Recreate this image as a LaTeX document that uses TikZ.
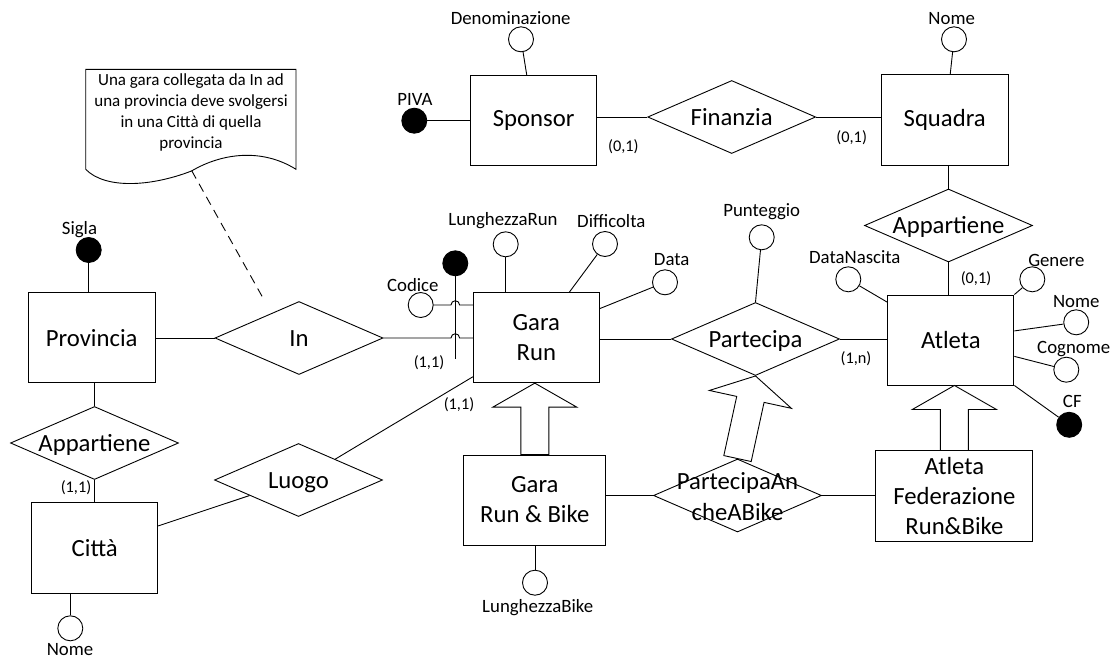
\documentclass[tikz,border=0pt]{standalone}
\usepackage{fontspec}
\setmainfont{Carlito}
\usetikzlibrary{shapes.geometric,calc}
\newcommand{\isaarrow}[2]{%
  \path coordinate (isah) at ($(#2)!24pt!(#1)$);
  \draw[isa] ($(#1)!14pt!90:(#2)$) -- ($(isah)!14pt!90:(#2)$) -- ($(isah)!42pt!90:(#2)$) -- (#2)
    -- ($(isah)!42pt!-90:(#2)$) -- ($(isah)!14pt!-90:(#2)$) -- ($(#1)!14pt!-90:(#2)$) -- cycle;}
\begin{document}
\begin{tikzpicture}[x=1pt,y=-1pt,line width=0.9pt,
 ent/.style={draw,rectangle,inner sep=0pt,align=center,font=\fontsize{24.7}{30}\selectfont},
 rel/.style={draw,diamond,inner sep=0pt,minimum width=168pt,minimum height=73pt,text height=16.5pt,text depth=0.5pt,font=\fontsize{24.7}{30}\selectfont},
 att/.style={draw,circle,inner sep=0pt,minimum size=25pt,fill=white},
 keyatt/.style={att,fill=black},
 lbl/.style={inner sep=0pt,font=\fontsize{18.8}{22}\selectfont},
 card/.style={inner sep=0pt,font=\fontsize{16.3}{20}\selectfont},
 isa/.style={draw,fill=white,line join=miter},
 notebox/.style={draw,line join=miter},
]
\useasboundingbox (0,0) rectangle (1114,659);

% note
\draw[notebox] (85.7,69.3) -- (296,69.3) -- (296,169.3)
  .. controls (262,148) and (222,153) .. (191.5,171)
  .. controls (150,187) and (105,189) .. (85.7,169.3) -- cycle;
\coordinate (notept) at (191.7,170.7);
\node[align=center,inner sep=0pt,font=\fontsize{17}{20.8}\selectfont] (notetxt) at (191,112.5)
  {Una gara collegata da In ad\\una provincia deve svolgersi\\in una Città di quella\\provincia};
\coordinate (noteend) at (263,298);
\draw[dashed,dash pattern=on 9pt off 6pt] (notept) -- (noteend);

% entities
\node[ent,minimum width=126pt,minimum height=90pt] (sp) at (533.7,120.3) {Sponsor};
\node[ent,minimum width=127pt,minimum height=91pt] (sq) at (944.7,120.3) {Squadra};
\node[ent,minimum width=127pt,minimum height=90pt] (prov) at (91.7,337.7) {Provincia};
\node[ent,minimum width=126pt,minimum height=91pt] (citta) at (94.7,548) {Città};
\node[ent,minimum width=126pt,minimum height=90pt] (gr) at (536.3,337.7) {Gara\\Run};
\node[ent,minimum width=126pt,minimum height=90pt] (atl) at (950.9,340) {Atleta};
\node[ent,minimum width=142pt,minimum height=90pt] (grb) at (534.8,500) {Gara\\Run \& Bike};
\node[ent,minimum width=157pt,minimum height=91pt] (afr) at (954.4,496.4) {Atleta\\Federazione\\Run\&Bike};

% relationships
\node[rel] (fin) at (731.7,117) {\makebox[0pt]{Finanzia}};
\node[rel] (inrel) at (299,338) {\makebox[0pt]{In}};
\node[rel] (appL) at (94.5,443) {\makebox[0pt]{Appartiene}};
\node[rel] (luogo) at (298.5,480) {\makebox[0pt]{Luogo}};
\node[rel] (part) at (755.5,339) {\makebox[0pt]{Partecipa}};
\node[rel] (appR) at (948.5,225.5) {\makebox[0pt]{Appartiene}};
\node[rel] (pab) at (737.5,495.5) {};
\node[align=center,inner sep=0pt,font=\fontsize{24.7}{31}\selectfont] (pabtxt) at (737.5,497) {PartecipaAn\\cheABike};

% attributes
\node[att] (den) at (521,39.3) {};
\node[lbl] at (510.7,18.3) {Denominazione};
\node[keyatt] (piva) at (414.3,120.7) {};
\node[lbl] at (415,99.3) {PIVA};
\node[att] (sqnome) at (954,39.3) {};
\node[lbl] at (951.7,18.3) {Nome};
\node[keyatt] (sigla) at (88.7,250) {};
\node[lbl] at (79.5,229.3) {Sigla};
\node[att] (cnome) at (70.3,628.3) {};
\node[lbl] at (70,650) {Nome};
\node[att] (codice) at (420.7,305) {};
\node[lbl] at (412.8,285) {Codice};
\node[keyatt] (key) at (455.3,263.3) {};
\coordinate (keyend) at (455.3,359);
\node[att] (lrun) at (505.7,244.3) {};
\node[lbl] at (503,220.7) {LunghezzaRun};
\node[att] (diff) at (605,244) {};
\node[lbl] at (611.3,220.7) {Difficolta};
\node[att] (data) at (665,282.3) {};
\node[lbl] at (671.7,259.3) {Data};
\node[att] (punt) at (761.7,237.3) {};
\node[lbl] at (761.7,211.7) {Punteggio};
\node[att] (dnasc) at (848.3,279.3) {};
\node[lbl] at (854.8,256.7) {DataNascita};
\node[att] (gen) at (1032.3,279.3) {};
\node[lbl] at (1056.3,260) {Genere};
\node[att] (anome) at (1076.2,322.3) {};
\node[lbl] at (1076.3,301.7) {Nome};
\node[att] (cogn) at (1066.3,369.7) {};
\node[lbl] at (1073.7,349.3) {Cognome};
\node[keyatt] (cf) at (1069.2,424.8) {};
\node[lbl] at (1072.3,401.7) {CF};
\node[att] (lbike) at (535,582.7) {};
\node[lbl] at (537.7,608) {LunghezzaBike};

% attribute connectors
\draw (den) -- ($(sp.north west)!0.445!(sp.north east)$);
\draw (piva) -- (piva -| sp.west);
\draw (sqnome) -- ($(sq.north west)!0.543!(sq.north east)$);
\draw (sigla) -- (sigla |- prov.north);
\draw (cnome) -- (cnome |- citta.south);
\draw (lrun) -- (lrun |- gr.north);
\draw (diff) -- ($(gr.north west)!0.76!(gr.north east)$);
\draw (data) -- ($(gr.north east)!0.18!(gr.south east)$);
\draw (punt) -- (part.north);
\draw (dnasc) -- ($(atl.north west)!0.085!(atl.south west)$);
\draw (gen) -- (atl.north east);
\draw (anome) -- ($(atl.north east)!0.4!(atl.south east)$);
\draw (cogn) -- ($(atl.north east)!0.68!(atl.south east)$);
\draw (cf) -- (atl.south east);
\draw (lbike) -- (lbike |- grb.south);
\draw (key) -- (keyend);
\draw (codice) -- ($(key |- codice)+(-4.3pt,0)$) arc[start angle=180,end angle=0,radius=4.3pt] -- (gr.west |- codice);

% relationship connectors
\draw (fin.west) -- (fin.west -| sp.east);
\draw (fin.east) -- (fin.east -| sq.west);
\draw (appR.north) -- (appR.north |- sq.south);
\draw (appR.south) -- (appR.south |- atl.north);
\draw (inrel.west) -- (inrel.west -| prov.east);
\draw (inrel.east) -- ($(key |- inrel.east)+(-4.3pt,0)$) arc[start angle=180,end angle=0,radius=4.3pt] -- (gr.west |- inrel.east);
\draw (appL.north) -- (appL.north |- prov.south);
\draw (appL.south) -- (appL.south |- citta.north);
\draw ($(luogo.west)!0.42!(luogo.south)$) -- ($(citta.north east)!0.26!(citta.south east)$);
\draw ($(luogo.north)!0.435!(luogo.east)$) -- ($(gr.north west)!0.93!(gr.south west)$);
\draw (part.west) -- (part.west -| gr.east);
\draw (part.east) -- (part.east -| atl.west);
\draw (pab.west) -- (pab.west -| grb.east);
\draw (pab.east) -- (pab.east -| afr.west);

% generalisations
\isaarrow{grb.north}{grb.north |- gr.south}
\isaarrow{afr.north}{afr.north |- atl.south}
\isaarrow{pab.north}{part.south}

% cardinalities
\node[card] at (623.3,146.7) {(0,1)};
\node[card] at (851.7,137.3) {(0,1)};
\node[card] at (976,278.3) {(0,1)};
\node[card] at (856,358.3) {(1,n)};
\node[card] at (429,363) {(1,1)};
\node[card] at (459,405) {(1,1)};
\node[card] at (76,488) {(1,1)};
\end{tikzpicture}
\end{document}
